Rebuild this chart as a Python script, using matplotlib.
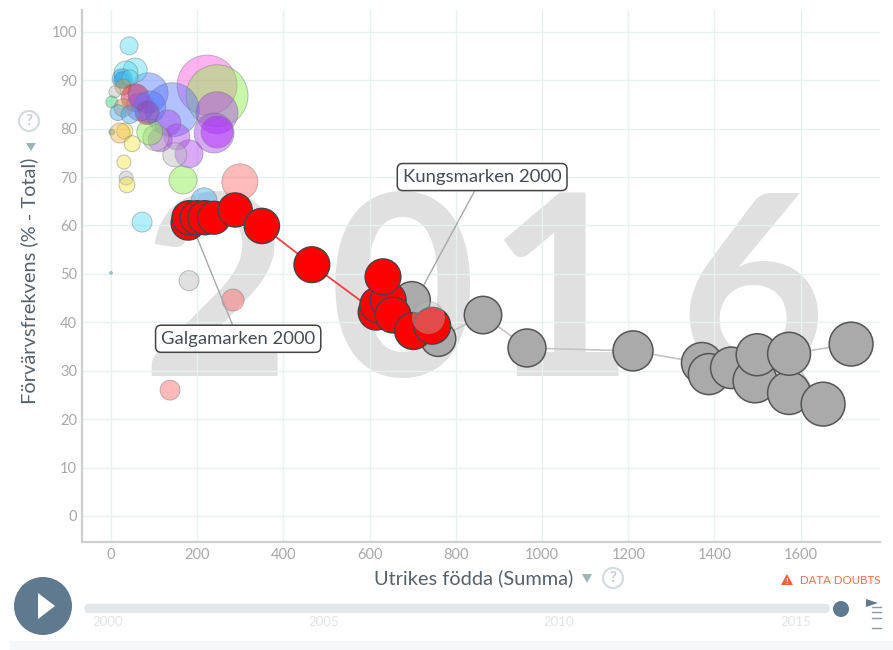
import matplotlib
matplotlib.use("Agg")
import matplotlib.pyplot as plt
from matplotlib.patches import Circle, Polygon, FancyBboxPatch, Rectangle
import numpy as np

plt.rcParams['font.family'] = ['Lato', 'DejaVu Sans']

# ---------- data ----------
year_label = "2016"
x_title = "Utrikes födda (Summa)"
y_title = "Förvärvsfrekvens (% - Total)"
x_ticks = [0, 200, 400, 600, 800, 1000, 1200, 1400, 1600]
y_ticks = [0, 10, 20, 30, 40, 50, 60, 70, 80, 90, 100]
timeline_years = ["2000", "2005", "2010", "2015"]

red_x = [179, 181, 200, 218, 239, 288, 350, 466, 615, 619, 643, 654, 631, 701, 745]
red_y = [60.5, 61.6, 61.6, 61.6, 61.6, 63.2, 59.9, 51.9, 42.1, 43.6, 44.6, 41.5, 49.4, 38.2, 39.3]
red_pop = [290, 290, 290, 290, 270, 290, 310, 320, 320, 320, 320, 320, 320, 340, 340]

grey_x = [698, 759, 863, 965, 1211, 1371, 1387, 1439, 1494, 1499, 1573, 1652, 1573, 1717]
grey_y = [44.6, 36.6, 41.5, 34.7, 34.1, 31.6, 29.3, 30.6, 27.9, 33.3, 25.4, 23.1, 33.5, 35.5]
grey_pop = [340, 310, 350, 360, 400, 420, 420, 430, 480, 440, 460, 480, 460, 480]

other_x = [223, 246, 142, 86, 246, 239, 246, 132, 153, 181, 148, 114, 104, 90, 167, 299, 216, 72,
           42, 56, 35, 26, 26, 44, 28, 9, 56, 67, 84, 90, 2, 28, 16, 44, 2, 32, 21, 49, 30, 35, 37,
           181, 283, 137, 0]
other_y = [89.0, 86.8, 83.9, 87.4, 83.3, 79.1, 79.3, 81.2, 78.3, 74.8, 74.6, 77.7, 78.1, 79.3, 69.4,
           69.0, 65.1, 60.7, 97.1, 92.1, 91.5, 90.3, 90.1, 90.5, 88.6, 87.6, 86.4, 84.5, 83.3, 84.5,
           85.5, 84.3, 83.3, 82.9, 79.3, 79.5, 79.1, 76.9, 73.1, 69.8, 68.4, 48.6, 44.6, 26.0, 50.2]
other_pop = [900, 960, 730, 400, 440, 400, 256, 169, 169, 196, 144, 144, 169, 169, 196, 324, 169, 100,
             81, 144, 144, 100, 64, 64, 64, 36, 196, 196, 144, 256, 36, 81, 64, 81, 9, 64, 100, 64, 49,
             49, 64, 100, 121, 100, 2]
other_group = ["pink", "lime", "blue", "blue", "purple", "purple", "violet", "purple", "purple", "purple",
               "grey", "purple", "grey", "lime", "lime", "salmon", "sky", "cyan",
               "cyan", "cyan", "cyan", "azure", "azure", "cyan", "tan", "grey", "crimson", "purple",
               "crimson", "blue", "green", "tan", "sky", "sky", "teal", "yellow", "orange", "yellow",
               "yellow", "grey", "yellow", "grey", "salmon", "salmon", "teal"]

ghost_x = [735]
ghost_y = [41.1]
ghost_pop = [256]

labels = ["Galgamarken 2000", "Kungsmarken 2000"]
label_x = [295, 861]
label_y = [36.6, 70.0]
anchor_x = [200, 717]
anchor_y = [57.4, 46.3]

# ---------- styles ----------
group_colors = {"pink": "#ff55dd", "lime": "#88ee44", "blue": "#5577ff", "purple": "#aa44ee",
                "violet": "#aa22ff", "grey": "#bbbbbb", "salmon": "#ff6666", "sky": "#44aaee",
                "cyan": "#55ddf5", "azure": "#1199ee", "tan": "#cc9944", "crimson": "#cc1144",
                "green": "#33cc77", "teal": "#22aaaa", "yellow": "#f5e545", "orange": "#f5b545"}
PX = 893
PY = 650
AREA = 2.0736  # marker area (pt^2) per unit of population
DIGIT_CENTRES = [215, 402, 560, 752]

fig = plt.figure(figsize=(PX / 100, PY / 100), dpi=100, facecolor="white")
ax = fig.add_axes([82 / PX, 1 - 542 / PY, (880 - 82) / PX, (542 - 10) / PY])
ax.set_xlim(-67.3, 1784)
ax.set_ylim(-5.37, 104.5)
ax.set_xticks(x_ticks)
ax.set_yticks(y_ticks)
ax.grid(True, color="#e8f1f1", lw=1.0, zorder=1)
ax.set_axisbelow(True)
for s in ("top", "right"):
    ax.spines[s].set_visible(False)
for s in ("left", "bottom"):
    ax.spines[s].set_color("#cfcfcf")
    ax.spines[s].set_linewidth(1.6)
ax.tick_params(length=0, labelsize=10.5, labelcolor="#a8a8a8")
ax.tick_params(axis="x", pad=4)
ax.tick_params(axis="y", pad=3.5)

for digit, cx in zip(year_label, DIGIT_CENTRES):
    ax.text(cx / PX, 1 - 303 / PY, digit, fontsize=183, color="#e0e0e0", ha="center", va="center",
            zorder=0.5, transform=fig.transFigure, weight="bold")

ax.scatter(other_x, other_y, s=np.array(other_pop) * AREA,
           c=[group_colors[g] for g in other_group], alpha=0.45,
           edgecolors="#777777", linewidths=0.7, zorder=3)

ax.plot(grey_x, grey_y, color="#c4c4c4", lw=1.2, zorder=3.2)
ax.plot(red_x, red_y, color="#f04040", lw=1.3, zorder=3.3)
for ax_, ay, lx, ly in zip(anchor_x, anchor_y, label_x, label_y):
    ax.plot([ax_, lx], [ay, ly], color="#a8a8a8", lw=1, zorder=3.1)

ax.scatter(grey_x, grey_y, s=np.array(grey_pop) * AREA, c="#aaaaaa",
           edgecolors="#555555", linewidths=1.1, zorder=4)
ax.scatter(red_x, red_y, s=np.array(red_pop) * AREA, c="#ff0000",
           edgecolors="#444444", linewidths=1.0, zorder=5)
ax.scatter(ghost_x, ghost_y, s=np.array(ghost_pop) * AREA, c="#bbbbbb", alpha=0.4,
           edgecolors="#999999", linewidths=0.8, zorder=6)

for t, lx, ly in zip(labels, label_x, label_y):
    ax.text(lx, ly, t, fontsize=13.3, color="#444c55", ha="center", va="center", zorder=7,
            bbox=dict(boxstyle="round,pad=0.3,rounding_size=0.3", fc="white", ec="#444444", lw=1.1))

# ---------- axis titles and player controls, in pixel space ----------
ui = fig.add_axes([0, 0, 1, 1], facecolor="none", zorder=10)
ui.set_xlim(0, PX)
ui.set_ylim(PY, 0)
ui.axis("off")

ui.text(474, 578, x_title, fontsize=14.4, color="#56616a", ha="center", va="center")
ui.text(29, 281, y_title, fontsize=14.4, color="#56616a", ha="center", va="center", rotation=90)

for (cx, cy) in [(613, 578), (29, 121)]:
    ui.add_patch(Circle((cx, cy), 10, fc="white", ec="#d3dcdf", lw=1.6))
    ui.text(cx, cy, "?", fontsize=11, color="#c5d0d4", ha="center", va="center", weight="bold")
ui.add_patch(Polygon([(582, 574), (592, 574), (587, 583)], fc="#9db5b8", ec="none"))
ui.add_patch(Polygon([(26, 143), (36, 143), (31, 151)], fc="#9db5b8", ec="none"))

ui.add_patch(Polygon([(781, 585), (793, 585), (787, 574)], fc="#f4603c", ec="none"))
ui.text(787, 581, "!", fontsize=6, color="white", ha="center", va="center", weight="bold")
ui.text(800, 580, "DATA DOUBTS", fontsize=8.3, color="#f4704c", ha="left", va="center")

ui.add_patch(Circle((43, 606), 29, fc="#5f7a8f", ec="none"))
ui.add_patch(Polygon([(38, 593), (38, 619), (55, 606)], fc="white", ec="none"))
ui.add_patch(FancyBboxPatch((85, 604.5), 744, 8, boxstyle="round,pad=0,rounding_size=4",
                            fc="#e3e7ea", ec="#e3e7ea", lw=1))
ui.add_patch(Circle((841, 609), 8, fc="#5f7a8f", ec="none"))
ui.add_patch(Polygon([(866, 599), (866, 607), (878, 603)], fc="#5f7a8f", ec="none"))
for ly in (607, 612, 618, 628):
    ui.plot([872, 881], [ly, ly], color="#8c9ba5", lw=1)

for t, tx in zip(timeline_years, [108, 324, 559, 796]):
    ui.text(tx, 622, t, fontsize=9.5, color="#e0e4e6", ha="center", va="center")

ui.add_patch(Rectangle((10, 641), 883, 9, fc="#f5f7f8", ec="none"))

fig.savefig("out.png", dpi=100)
